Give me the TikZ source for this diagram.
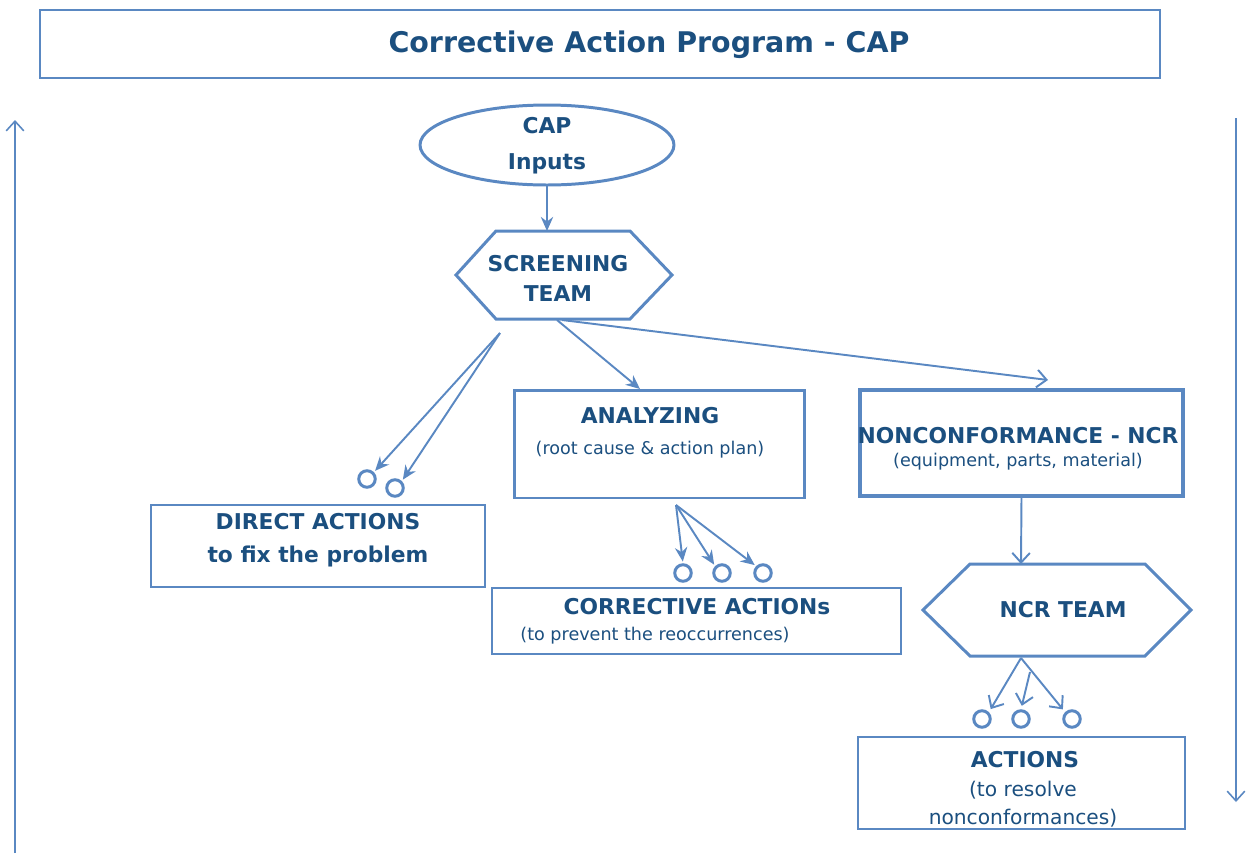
\documentclass[tikz,border=0pt]{standalone}
\usepackage{fontspec}
\setmainfont{DejaVu Sans}
\usetikzlibrary{shapes.geometric,arrows.meta}
\definecolor{capline}{HTML}{5A88C2}
\definecolor{captext}{HTML}{1B4F7F}

\begin{document}
\begin{tikzpicture}[x=0.02cm,y=-0.02cm,
    head/.style={text=captext,font=\fontsize{12.4}{14.5}\selectfont\bfseries,align=center,inner sep=0pt},
    sub/.style={text=captext,font=\fontsize{10}{12}\selectfont,align=center,inner sep=0pt},
    box/.style={draw=capline,line width=0.9pt,inner sep=0pt},
    ring/.style={circle,draw=capline,line width=1.7pt,minimum size=0.33cm,inner sep=0pt},
    arr/.style={draw=capline,line width=1.1pt,-{Stealth[length=8pt,width=7pt]}},
    oarr/.style={draw=capline,line width=1.1pt,-{Straight Barb[length=5.5pt,width=10pt]}}]
  \useasboundingbox (0,0) rectangle (1249,853);
  % title
  \node[box,line width=1.2pt,minimum width=2.24cm*10,minimum height=1.36cm] (title) at (600,44) {};
  \node[head,font=\fontsize{16.2}{19}\selectfont\bfseries] (titlet) at (649,45) {Corrective Action Program - CAP};
  % side arrows
  \coordinate (lbot) at (15,853);
  \coordinate (ltop) at (15,120);
  \draw[oarr,line width=0.9pt] (lbot) -- (ltop);
  \coordinate (rtop) at (1236,118);
  \coordinate (rbot) at (1236,802);
  \draw[oarr,line width=0.9pt] (rtop) -- (rbot);
  % inputs
  \node[ellipse,draw=capline,line width=1.7pt,minimum width=5.08cm,minimum height=1.6cm,inner sep=0pt] (cap) at (547,145) {};
  \node[head] (capt) at (547,145.5) {CAP\\[6pt]Inputs};
  % screening team
  \draw[capline,line width=1.7pt] (456,275) -- (496,231) -- (630,231) -- (672,275) -- (630,319) -- (496,319) -- cycle;
  \node[head] (screen) at (558,278.5) {SCREENING\\[3pt]TEAM};
  \coordinate (scrN) at (547,231);
  \draw[arr] (cap.south) -- (scrN);
  % analyzing
  \node[box,line width=1.7pt,minimum width=5.82cm,minimum height=2.16cm] (analyze) at (659.5,444) {};
  \node[head] (analyzet) at (650,416) {ANALYZING};
  \node[sub] (analyzes) at (650,450) {(root cause \& action plan)};
  % nonconformance
  \node[box,line width=2.2pt,minimum width=6.46cm,minimum height=2.12cm] (ncr) at (1021.5,443) {};
  \node[head] (ncrt) at (1018,436) {NONCONFORMANCE - NCR};
  \node[sub] (ncrs) at (1018,462) {(equipment, parts, material)};
  % screening outputs
  \coordinate (scrL) at (500,333);
  \coordinate (scrS) at (557,320);
  \coordinate (scrR) at (562,320);
  \coordinate (anaIn) at (640,389);
  \coordinate (ncrIn) at (1048,380);
  \draw[arr] (scrS) -- (anaIn);
  \draw[oarr] (scrR) -- (ncrIn);
  \node[ring] (d1) at (367,479) {};
  \node[ring] (d2) at (395,488) {};
  \draw[arr,shorten >=1pt] (scrL) -- (d1.north east);
  \draw[arr,shorten >=1pt] (scrL) -- (d2.north east);
  % direct actions
  \node[box,minimum width=6.68cm,minimum height=1.64cm] (direct) at (318,546) {};
  \node[head] (directt) at (318,540) {DIRECT ACTIONS\\[4pt]to fix the problem};
  % corrective actions
  \coordinate (anaS) at (676,505);
  \node[ring] (c1) at (683,573) {};
  \node[ring] (c2) at (722,573) {};
  \node[ring] (c3) at (763,573) {};
  \draw[arr,shorten >=1pt] (anaS) -- (c1.north);
  \draw[arr,shorten >=1pt] (anaS) -- (c2.north west);
  \draw[arr,shorten >=1pt] (anaS) -- (c3.north west);
  \node[box,minimum width=8.18cm,minimum height=1.32cm] (corr) at (696.5,621) {};
  \node[head] (corrt) at (697,607) {CORRECTIVE ACTIONs};
  \node[sub] (corrs) at (655,636) {(to prevent the reoccurrences)};
  % ncr team
  \coordinate (ntN) at (1021,564);
  \draw[oarr] (ncr.south) -- (ntN);
  \draw[capline,line width=1.7pt] (923,610) -- (970,564) -- (1145,564) -- (1191,610) -- (1145,656) -- (970,656) -- cycle;
  \node[head] (ncrteam) at (1063,610) {NCR TEAM};
  \coordinate (ntS) at (1021,658);
  \coordinate (ntM) at (1030,672);
  \node[ring] (a1) at (982,719) {};
  \node[ring] (a2) at (1021,719) {};
  \node[ring] (a3) at (1072,719) {};
  \draw[oarr,shorten >=2pt] (ntS) -- (a1.north east);
  \draw[oarr,shorten >=2pt] (ntM) -- (a2.north);
  \draw[oarr,shorten >=2pt] (ntS) -- (a3.north west);
  % actions
  \node[box,line width=1.1pt,minimum width=6.54cm,minimum height=1.84cm] (act) at (1021.5,783) {};
  \node[head] (actt) at (1025,760) {ACTIONS};
  \node[sub,font=\fontsize{11.5}{16}\selectfont] (acts) at (1023,804) {(to resolve\\nonconformances)};
\end{tikzpicture}
\end{document}
